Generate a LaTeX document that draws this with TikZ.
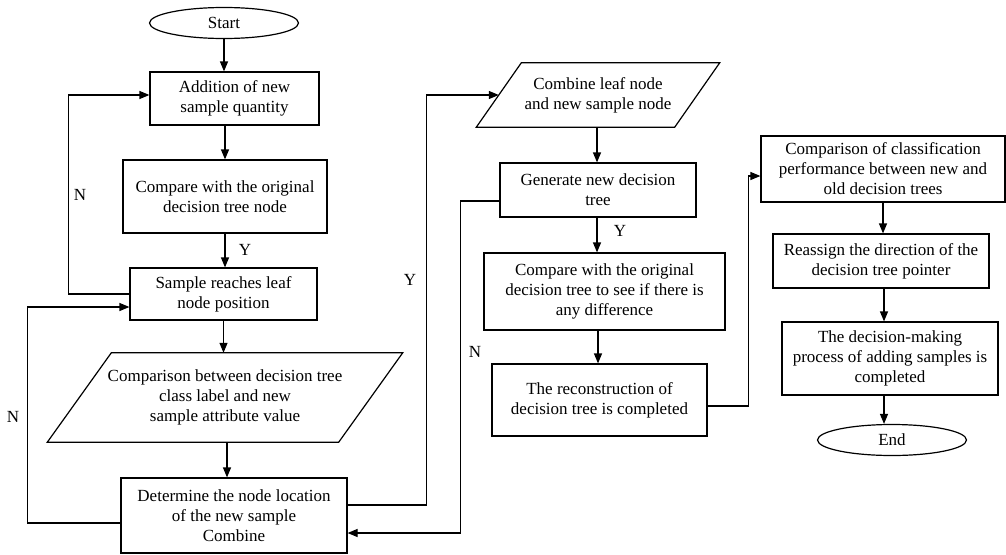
\documentclass[tikz,border=0pt]{standalone}
\usepackage{fontspec}
\setmainfont{Liberation Serif}
\usetikzlibrary{arrows.meta,shapes.geometric,calc}
\begin{document}
\begin{tikzpicture}[x=1pt,y=-1pt,
  every node/.style={font=\fontsize{17}{20}\selectfont, align=center, inner sep=0pt},
  line/.style={line width=1.2pt, line join=miter},
  arr/.style={line, -{Triangle[length=10pt,width=8pt]}},
  box/.style={draw, line width=1.2pt},
  term/.style={draw, ellipse, line width=1.2pt, minimum width=149pt, minimum height=31pt},
  lbl/.style={font=\fontsize{17}{20}\selectfont}
]
\useasboundingbox (0,0) rectangle (1006,554);

% column 1
\node[term] (start) at (224,23) {Start};
\node[box, minimum width=169pt, minimum height=53pt] (b1) at (234.5,98.5) {Addition of new\\sample quantity};
\node[box, minimum width=204pt, minimum height=73pt] (b2) at (225,196.5) {Compare with the original\\decision tree node};
\node[box, minimum width=187pt, minimum height=52pt] (b3) at (223.5,294) {Sample reaches leaf\\node position};
\node[minimum width=291pt, minimum height=89pt] (p1) at (225,397.5) {Comparison between decision tree\\class label and new\\sample attribute value};
\draw[line] ($(p1.north west)+(32,0)$) -- ($(p1.north east)+(32,0)$) -- ($(p1.south east)+(-32,0)$) -- ($(p1.south west)+(-32,0)$) -- cycle;
\node[box, minimum width=226pt, minimum height=75pt] (b4) at (234,515.5) {Determine the node location\\of the new sample\\Combine};

% column 2
\node[minimum width=198pt, minimum height=64pt] (p2) at (598,95) {Combine leaf node\\and new sample node};
\draw[line] ($(p2.north west)+(22.5,0)$) -- ($(p2.north east)+(22.5,0)$) -- ($(p2.south east)+(-22.5,0)$) -- ($(p2.south west)+(-22.5,0)$) -- cycle;
\node[box, minimum width=196pt, minimum height=54pt] (b5) at (598,190) {Generate new decision\\tree};
\node[box, minimum width=241pt, minimum height=77pt] (b6) at (604.5,291.5) {Compare with the original\\decision tree to see if there is\\any difference};
\node[box, minimum width=215pt, minimum height=72pt] (b7) at (599.5,400) {The reconstruction of\\decision tree is completed};

% column 3
\node[box, minimum width=244pt, minimum height=66pt] (b8) at (883,169) {Comparison of classification\\performance between new and\\old decision trees};
\node[box, minimum width=216pt, minimum height=54pt] (b9) at (881,261) {Reassign the direction of the\\decision tree pointer};
\node[box, minimum width=216pt, minimum height=73pt] (b10) at (890,358.5) {The decision-making\\process of adding samples is\\completed};
\node[term] (end) at (892,440) {End};

% anchor points for vertical arrows
\coordinate (s4) at ($(p1.south)+(2,0)$);
\coordinate (s5) at ($(p2.south)+(-1,0)$);
\coordinate (s6) at ($(b5.south)+(-1,0)$);
\coordinate (s7) at ($(b6.south)+(-6.5,0)$);
\coordinate (s10) at ($(b9.south)+(3,0)$);
\coordinate (s11) at ($(b10.south)+(-6,0)$);

% vertical arrows
\draw[arr] (start.south) -- (start.south |- b1.north);
\draw[arr] (b2.north |- b1.south) -- (b2.north);
\draw[arr] (b2.south) -- (b2.south |- b3.north);
\draw[arr] (b3.south) -- (b3.south |- p1.north);
\draw[arr] (s4) -- (s4 |- b4.north);
\draw[arr] (s5) -- (s5 |- b5.north);
\draw[arr] (s6) -- (s6 |- b6.north);
\draw[arr] (s7) -- (s7 |- b7.north);
\draw[arr] (b8.south) -- (b8.south |- b9.north);
\draw[arr] (s10) -- (s10 |- b10.north);
\draw[arr] (s11) -- (s11 |- end.north);

% loops
\draw[arr] (b3.west) -- ++(-61,0) |- ($(b1.west)+(0,-3.5)$);
\draw[arr] ($(b4.west)+(0,7.5)$) -- ++(-93,0) |- ($(b3.west)+(0,13)$);
\draw[arr] ($(b4.east)+(0,-10.5)$) -- ++(79,0) |- (p2.west);
\draw[arr] ($(b5.west)+(0,11)$) -- ++(-39,0) |- ($(b4.east)+(0,17.5)$);
\draw[arr] ($(b7.east)+(0,6)$) -- ++(41,0) |- ($(b8.west)+(0,7)$);

% labels
\node[lbl] (ly1) at (245,250) {Y};
\node[lbl] (ln1) at (80,195) {N};
\node[lbl] (ln2) at (13,417) {N};
\node[lbl] (ly2) at (410,280) {Y};
\node[lbl] (ln3) at (475,352) {N};
\node[lbl] (ly3) at (620,231) {Y};
\end{tikzpicture}
\end{document}
